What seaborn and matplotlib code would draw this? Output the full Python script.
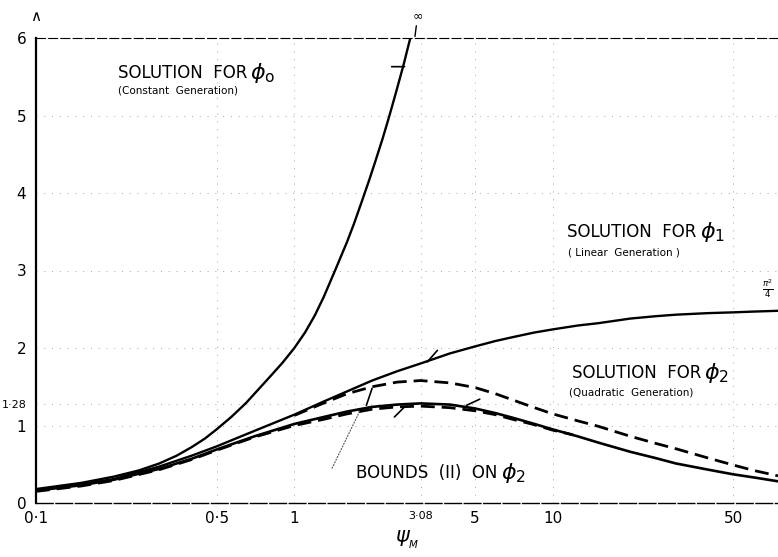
import matplotlib
matplotlib.use('Agg')
import pandas as pd
import matplotlib.pyplot as plt
import seaborn as sns

# values
psi = [0.1, 0.15, 0.2, 0.3, 0.4, 0.5, 0.7, 1.0, 1.3, 1.6, 2.0, 2.5, 3.08, 4, 5, 6, 7, 8.5, 10, 12.5, 15, 20, 25, 30, 40, 50, 60, 74.5]
phi1 = [0.17, 0.24, 0.31, 0.47, 0.61, 0.73, 0.93, 1.14, 1.31, 1.44, 1.58, 1.70, 1.80, 1.93, 2.02, 2.09, 2.14, 2.20, 2.24, 2.29, 2.32, 2.38, 2.41, 2.43, 2.45, 2.46, 2.47, 2.48]
phi2 = [0.16, 0.23, 0.30, 0.44, 0.57, 0.69, 0.86, 1.02, 1.11, 1.18, 1.24, 1.27, 1.285, 1.27, 1.22, 1.16, 1.10, 1.02, 0.95, 0.86, 0.78, 0.66, 0.58, 0.51, 0.43, 0.37, 0.33, 0.28]

psi0 = [0.1, 0.15, 0.2, 0.25, 0.3, 0.35, 0.4, 0.45, 0.5, 0.57, 0.65, 0.8, 0.9, 1.0, 1.1, 1.2, 1.3, 1.45, 1.6, 1.7, 1.82, 1.95, 2.05, 2.2, 2.33, 2.48, 2.65, 2.85, 2.95]
phi0 = [0.18, 0.26, 0.34, 0.42, 0.51, 0.61, 0.72, 0.83, 0.95, 1.11, 1.29, 1.62, 1.81, 2.00, 2.20, 2.42, 2.66, 3.03, 3.37, 3.60, 3.88, 4.17, 4.39, 4.71, 4.99, 5.31, 5.66, 6.08, 6.3]

psi_lo = [0.1, 0.15, 0.2, 0.3, 0.4, 0.5, 0.7, 1.0, 1.3, 1.6, 2.0, 2.5, 3.08, 4, 5, 6, 7, 8.5, 10, 12]
bound_lo = [0.15, 0.22, 0.29, 0.43, 0.56, 0.68, 0.85, 1.00, 1.08, 1.15, 1.21, 1.24, 1.25, 1.23, 1.19, 1.14, 1.08, 1.01, 0.94, 0.88]

psi_up = [1.0, 1.3, 1.6, 2.0, 2.5, 3.08, 4, 5, 6, 7, 8.5, 10, 12.5, 15, 20, 25, 30, 40, 50, 60, 74.5]
bound_up = [1.13, 1.29, 1.41, 1.50, 1.56, 1.58, 1.55, 1.49, 1.41, 1.33, 1.23, 1.15, 1.06, 0.99, 0.86, 0.77, 0.70, 0.58, 0.49, 0.42, 0.35]

x_ticks = [0.1, 0.5, 1, 3.08, 5, 10, 50]
x_labels = ['0·1', '0·5', '1', '3·08', '5', '10', '50']
y_ticks = [0, 1, 1.28, 2, 3, 4, 5, 6]
y_labels = ['0', '1', '1·28', '2', '3', '4', '5', '6']

# little pointer strokes drawn on the original
pointers = [((2.38, 5.63), (2.67, 5.63)),
            ((3.27, 1.82), (3.58, 1.97)),
            ((4.64, 1.26), (5.22, 1.34)),
            ((2.44, 1.11), (2.67, 1.24)),
            ((1.90, 1.26), (2.00, 1.48))]

sns.set_style('white')
plt.rcParams['font.family'] = ['DejaVu Sans']
plt.rcParams['mathtext.fontset'] = 'dejavusans'
plt.rcParams['text.color'] = 'black'
plt.rcParams['axes.labelcolor'] = 'black'

fig = plt.figure(figsize=(7.78, 5.57), dpi=100)
ax = fig.add_axes([36 / 778, 1 - 503 / 557, 1 - 36 / 778, 465 / 557])
ax.set_xscale('log')

df0 = pd.DataFrame({'psi': psi0, 'phi': phi0})
df1 = pd.DataFrame({'psi': psi, 'phi': phi1})
df2 = pd.DataFrame({'psi': psi, 'phi': phi2})
dlo = pd.DataFrame({'psi': psi_lo, 'phi': bound_lo})
dup = pd.DataFrame({'psi': psi_up, 'phi': bound_up})

sns.lineplot(data=df0, x='psi', y='phi', color='black', lw=1.7, ax=ax, sort=False, estimator=None)
sns.lineplot(data=df1, x='psi', y='phi', color='black', lw=1.7, ax=ax, sort=False, estimator=None)
sns.lineplot(data=df2, x='psi', y='phi', color='black', lw=1.9, ax=ax, sort=False, estimator=None)
sns.lineplot(data=dlo, x='psi', y='phi', color='black', lw=2.0, ax=ax, sort=False, estimator=None,
             linestyle=(0, (5, 2.5)))
sns.lineplot(data=dup, x='psi', y='phi', color='black', lw=2.0, ax=ax, sort=False, estimator=None,
             linestyle=(0, (5, 2.5)))

ax.set_xlim(0.1, 74.5)
ax.set_ylim(0, 6)
ax.minorticks_off()
ax.set_xticks(x_ticks)
ax.set_xticklabels(x_labels)
ax.set_yticks(y_ticks)
ax.set_yticklabels(y_labels)
ax.tick_params(length=0, labelsize=11, colors='black')
ax.tick_params(axis='x', pad=6)
ax.tick_params(axis='y', pad=7)
for lab in ax.get_xticklabels():
    if lab.get_text() == '3·08':
        lab.set_fontsize(8)
for lab in ax.get_yticklabels():
    if lab.get_text() == '1·28':
        lab.set_fontsize(8)

ax.grid(True, color='0.65', linestyle=(0, (1, 7)), lw=0.7)

ax.spines['right'].set_visible(False)
ax.spines['left'].set_linewidth(1.6)
ax.spines['bottom'].set_linewidth(1.0)
ax.spines['bottom'].set_linestyle((0, (12, 2)))
ax.spines['top'].set_linewidth(0.8)
ax.spines['top'].set_linestyle((0, (8, 3)))
for s in ax.spines.values():
    s.set_color('black')

ax.set_xlabel(r'$\psi_{_M}$', fontsize=15, labelpad=2)
ax.set_ylabel('')


def heading(x, y, words, sub, note, nx, ny):
    t = ax.text(x, y, words, fontsize=12)
    ax.annotate(r'$\phi_{%s}$' % sub, xy=(1, 0), xycoords=t, xytext=(2, -2),
                textcoords='offset points', fontsize=16, va='bottom')
    if note:
        ax.text(nx, ny, note, fontsize=7.5)


heading(0.208, 5.48, 'SOLUTION  FOR', r'\rm o', '(Constant  Generation)', 0.208, 5.29)
heading(11.4, 3.43, 'SOLUTION  FOR', '1', '( Linear  Generation )', 11.5, 3.19)
heading(11.9, 1.61, 'SOLUTION  FOR', '2', '(Quadratic  Generation)', 11.6, 1.39)
heading(1.74, 0.32, 'BOUNDS  (II)  ON', '2', None, 0, 0)

ax.annotate('∞', xy=(2.93, 6.02), xytext=(3.0, 6.2), ha='center', va='bottom', fontsize=9,
            annotation_clip=False,
            arrowprops=dict(arrowstyle='-', color='black', lw=1.0, shrinkA=0, shrinkB=0))
ax.text(72, 2.62, r'$\frac{\pi^2}{4}$', fontsize=9, ha='right', va='bottom')
ax.text(0.1, 6.18, '∧', fontsize=11, ha='center', va='bottom')

for a, b in pointers:
    ax.annotate('', xy=b, xytext=a,
                arrowprops=dict(arrowstyle='-', color='black', lw=1.2, shrinkA=0, shrinkB=0))

ax.annotate('', xy=(1.80, 1.20), xytext=(1.40, 0.45),
            arrowprops=dict(arrowstyle='-', color='0.3', lw=0.8, linestyle=':', shrinkA=0, shrinkB=0))

fig.savefig('out.png', dpi=100)
